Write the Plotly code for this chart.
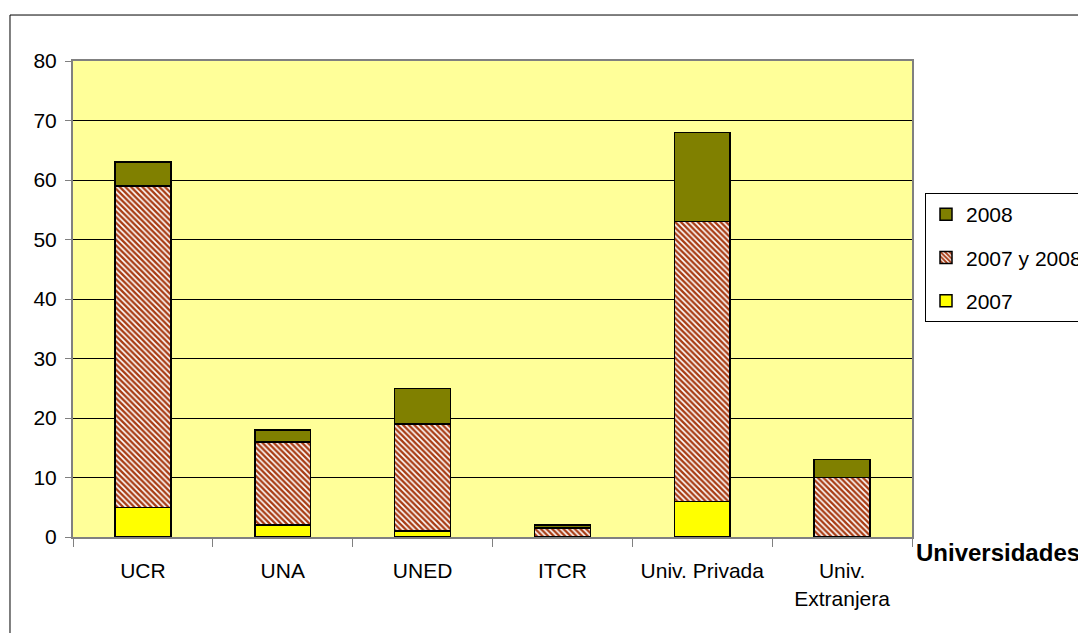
import plotly.graph_objects as go

universidades = ["UCR", "UNA", "UNED", "ITCR", "Univ. Privada", "Univ.<br>Extranjera"]
solo_2007 = [5, 2, 1, 0, 6, 0]
ambos_anios = [54, 14, 18, 1.5, 47, 10]
solo_2008 = [4, 2, 6, 0.5, 15, 3]

FONT = "Liberation Sans, Arial, sans-serif"
LINE = dict(color="black", width=1.5)

fig = go.Figure()

fig.add_trace(go.Bar(
    x=universidades, y=solo_2007, name="2007",
    marker=dict(color="#FFFF00", line=LINE),
    legendgroup="a", legendrank=3,
))
fig.add_trace(go.Bar(
    x=universidades, y=ambos_anios, name="2007 y 2008",
    marker=dict(
        color="#A83C14", line=LINE,
        pattern=dict(shape="\\", fillmode="replace", bgcolor="white",
                     fgcolor="#A83C14", size=4, solidity=0.6),
    ),
    legendgroup="b", legendrank=2,
))
fig.add_trace(go.Bar(
    x=universidades, y=solo_2008, name="2008",
    marker=dict(color="#808000", line=LINE),
    legendgroup="c", legendrank=1,
))

# the page adds an 8px body margin, so the plot area (73..912, 61..537 on screen)
# sits at 65..904, 53..529 inside the figure
fig.update_layout(
    width=1086, height=633,
    margin=dict(l=65, r=182, t=53, b=104, autoexpand=False),
    barmode="stack", bargap=0.6,
    plot_bgcolor="#FFFF99", paper_bgcolor="white",
    font=dict(family=FONT, size=21, color="black"),
    showlegend=True,
    legend=dict(
        x=1.0155, y=0.7227, xanchor="left", yanchor="top",
        bordercolor="black", borderwidth=1, bgcolor="white",
        traceorder="grouped", tracegroupgap=13,
        itemwidth=30, font=dict(family=FONT, size=21),
    ),
    xaxis=dict(
        showline=True, linecolor="#808080", linewidth=2, mirror=True,
        ticks="outside", tickson="boundaries", ticklen=8, tickcolor="#808080",
        showgrid=False, tickangle=0, automargin=False, ticklabelstandoff=14,
        tickfont=dict(family=FONT, size=21),
    ),
    yaxis=dict(
        range=[0, 80], dtick=10,
        showline=True, linecolor="#808080", linewidth=2, mirror=True,
        ticks="outside", ticklen=6, tickcolor="#808080",
        showgrid=True, gridcolor="black", gridwidth=1,
        zeroline=False, automargin=False, ticklabelstandoff=4,
        tickfont=dict(family=FONT, size=21),
    ),
    shapes=[dict(
        type="rect", xref="paper", yref="paper",
        x0=-0.0751, x1=1.25, y0=-0.25, y1=1.0966,
        line=dict(color="black", width=1), fillcolor="rgba(0,0,0,0)",
        layer="below",
    )],
    annotations=[dict(
        text="<b>Universidades</b>", xref="paper", yref="paper",
        x=1.0025, y=-0.0336, xanchor="left", yanchor="middle",
        showarrow=False,
        font=dict(family=FONT, size=24, color="black"),
    )],
)

fig.write_html("out.html")
